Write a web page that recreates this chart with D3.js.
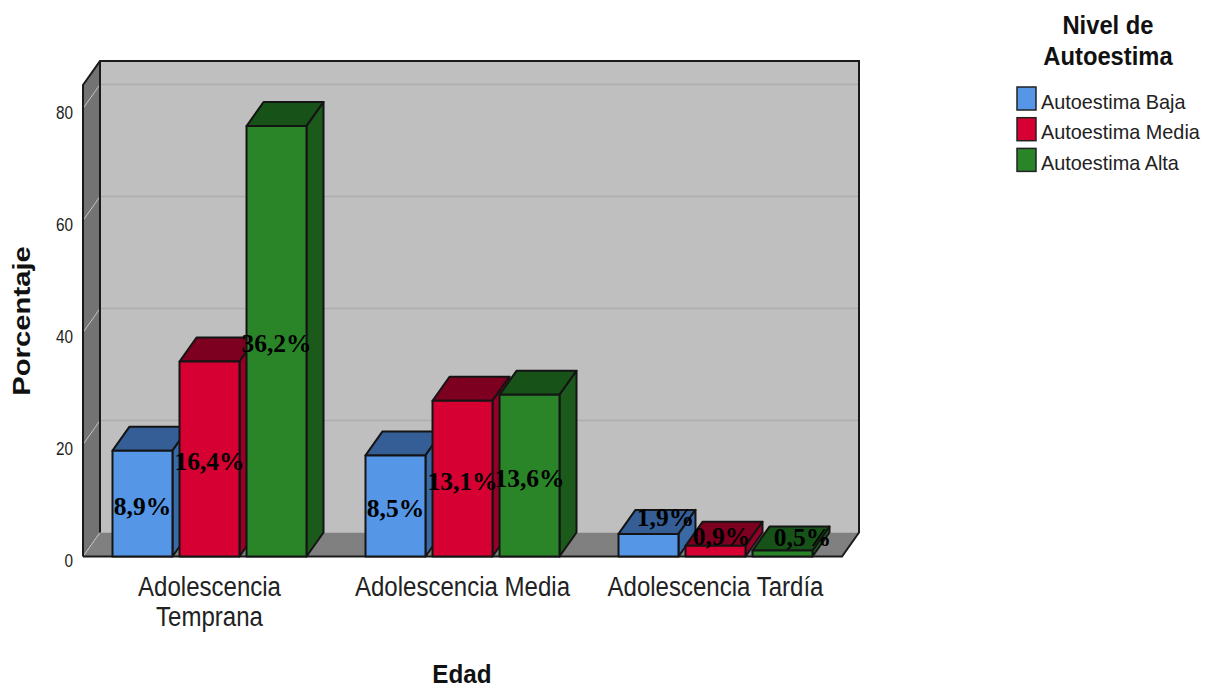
<!DOCTYPE html>
<html>
<head>
<meta charset="utf-8">
<script src="https://cdn.jsdelivr.net/npm/d3@7"></script>
<style>
  html, body { margin: 0; padding: 0; background: #fff; }
  svg { display: block; }
  .narrow { font-family: "Liberation Sans", sans-serif; fill: #222; }
  .title { font-family: "Liberation Sans", sans-serif; font-weight: bold; fill: #111; }
  .pct { font-family: "Liberation Serif", serif; font-weight: bold; font-size: 25.5px; fill: #000; text-anchor: middle; }
</style>
</head>
<body>
<svg id="svg" width="1216" height="689"></svg>
<script>
const categories = [["Adolescencia", "Temprana"], ["Adolescencia Media"], ["Adolescencia Tardía"]];
const levels = ["Autoestima Baja", "Autoestima Media", "Autoestima Alta"];
const pctBaja = [8.9, 8.5, 1.9];
const pctMedia = [16.4, 13.1, 0.9];
const pctAlta = [36.2, 13.6, 0.5];
const yTicks = [0, 20, 40, 60, 80];

// the axis shows each cell as a share of this total, the labels show the raw percentage
const baseTotal = 47.1;

const series = [pctBaja, pctMedia, pctAlta];
const faceColors = ["#5596e6", "#d60032", "#2a8528"];
const topColors = ["#355e96", "#7d0020", "#175218"];
const sideColors = ["#3a6aa6", "#960026", "#1b5a1b"];

const depthX = 17, depthY = -24;

const svg = d3.select("#svg");

const x0 = d3.scaleBand()
    .domain(d3.range(categories.length))
    .range([83, 842]);

const x1 = d3.scaleBand()
    .domain(d3.range(levels.length))
    .range([0, 194])
    .paddingInner(0.105);

const y = d3.scaleLinear()
    .domain([0, 84.2])
    .range([556.5, 85]);

const pts = (a) => a.map(p => p.join(",")).join(" ");

// squeeze or stretch a text element along its baseline
function fitWidth(sel, factor) {
  sel.each(function () {
    const len = this.getComputedTextLength();
    d3.select(this)
        .attr("textLength", len * factor)
        .attr("lengthAdjust", "spacingAndGlyphs");
  });
}

// walls and floor
const plotLeft = 83, plotRight = 842, plotBottom = y(0), plotTop = y(84.2);
const walls = svg.append("g");

walls.append("rect")
    .attr("x", plotLeft + depthX)
    .attr("y", plotTop + depthY)
    .attr("width", plotRight - plotLeft)
    .attr("height", plotBottom - plotTop)
    .attr("fill", "#bfbfbf");

walls.append("polygon")
    .attr("points", pts([[plotLeft, plotTop], [plotLeft + depthX, plotTop + depthY], [plotLeft + depthX, plotBottom + depthY], [plotLeft, plotBottom]]))
    .attr("fill", "#737373");

walls.append("polygon")
    .attr("points", pts([[plotLeft, plotBottom], [plotLeft + depthX, plotBottom + depthY], [plotRight + depthX, plotBottom + depthY], [plotRight, plotBottom]]))
    .attr("fill", "#808080");

walls.selectAll("line.grid")
    .data(yTicks.filter(d => d > 0))
    .enter().append("line")
    .attr("class", "grid")
    .attr("x1", plotLeft + depthX)
    .attr("x2", plotRight + depthX)
    .attr("y1", d => y(d) + depthY)
    .attr("y2", d => y(d) + depthY)
    .attr("stroke", "#adadad")
    .attr("stroke-width", 1.5);

walls.selectAll("line.gridside")
    .data(yTicks)
    .enter().append("line")
    .attr("class", "gridside")
    .attr("x1", plotLeft)
    .attr("x2", plotLeft + depthX)
    .attr("y1", d => y(d))
    .attr("y2", d => y(d) + depthY)
    .attr("stroke", "#c4c4c4")
    .attr("stroke-width", 1);

walls.append("path")
    .attr("d", d3.line()([
      [plotLeft, plotBottom], [plotLeft, plotTop], [plotLeft + depthX, plotTop + depthY],
      [plotRight + depthX, plotTop + depthY], [plotRight + depthX, plotBottom + depthY], [plotRight, plotBottom], [plotLeft, plotBottom]
    ]))
    .attr("fill", "none")
    .attr("stroke", "#1a1a1a")
    .attr("stroke-width", 2);

walls.append("line")
    .attr("x1", plotLeft + depthX)
    .attr("x2", plotLeft + depthX)
    .attr("y1", plotTop + depthY)
    .attr("y2", plotBottom + depthY)
    .attr("stroke", "#1a1a1a")
    .attr("stroke-width", 2);

// axes
const yAxis = svg.append("g")
    .attr("transform", "translate(" + (plotLeft - 7) + ",4)")
    .call(d3.axisLeft(y).tickValues(yTicks).tickSize(0).tickPadding(3));
yAxis.select(".domain").remove();
yAxis.selectAll("text")
    .attr("class", "narrow")
    .attr("font-size", 18)
    .call(fitWidth, 0.85);

const xAxis = svg.append("g")
    .attr("transform", "translate(0," + plotBottom + ")")
    .call(d3.axisBottom(x0).tickSize(0).tickFormat(""));
xAxis.select(".domain").remove();
const xLines = xAxis.selectAll(".tick text")
    .attr("class", "narrow")
    .attr("font-size", 27)
    .attr("y", 0)
    .attr("dy", null)
    .selectAll("tspan")
    .data(i => categories[i])
    .enter().append("tspan")
    .attr("x", 0)
    .attr("y", (d, i) => 39 + i * 30)
    .text(d => d);
xLines.call(fitWidth, 0.89);

// bars, left to right so each one covers the side of the one before
categories.forEach((c, ci) => {
  series.forEach((vals, si) => {
    const v = vals[ci] / baseTotal * 100;
    const bx = x0(ci) + (x0.bandwidth() - 194) / 2 + x1(si);
    const bw = x1.bandwidth();
    const by = y(v);
    const g = svg.append("g")
        .attr("stroke", "#141414")
        .attr("stroke-width", 2)
        .attr("stroke-linejoin", "round");

    g.append("polygon")
        .attr("points", pts([[bx, by], [bx + depthX, by + depthY], [bx + bw + depthX, by + depthY], [bx + bw, by]]))
        .attr("fill", topColors[si]);

    g.append("polygon")
        .attr("points", pts([[bx + bw, by], [bx + bw + depthX, by + depthY], [bx + bw + depthX, plotBottom + depthY], [bx + bw, plotBottom]]))
        .attr("fill", sideColors[si]);

    g.append("rect")
        .attr("x", bx)
        .attr("y", by)
        .attr("width", bw)
        .attr("height", plotBottom - by)
        .attr("fill", faceColors[si]);
  });
});

// value labels; the short bars of the last group have theirs lifted above the bar
const lift = { dx: [17, 6, 20], dy: [-30, -17, -19] };
categories.forEach((c, ci) => {
  series.forEach((vals, si) => {
    const v = vals[ci] / baseTotal * 100;
    const bx = x0(ci) + (x0.bandwidth() - 194) / 2 + x1(si);
    const short = ci === 2;
    svg.append("text")
        .attr("class", "pct")
        .attr("x", bx + x1.bandwidth() / 2 + (short ? lift.dx[si] : 0))
        .attr("y", (y(v) + plotBottom) / 2 + 11 + (short ? lift.dy[si] : 0))
        .text(d3.format(".1f")(vals[ci]).replace(".", ",") + "%");
  });
});

// axis titles
svg.append("text")
    .attr("class", "title")
    .attr("transform", "translate(30,321) rotate(-90)")
    .attr("text-anchor", "middle")
    .attr("font-size", 24)
    .text("Porcentaje")
    .call(fitWidth, 1.22);

svg.append("text")
    .attr("class", "title")
    .attr("x", 462)
    .attr("y", 683)
    .attr("text-anchor", "middle")
    .attr("font-size", 25)
    .text("Edad")
    .call(fitWidth, 0.97);

// legend
const legendTitle = ["Nivel de", "Autoestima"];
svg.selectAll("text.legendTitle")
    .data(legendTitle)
    .enter().append("text")
    .attr("class", "title legendTitle")
    .attr("x", 1108)
    .attr("y", (d, i) => 34 + i * 31)
    .attr("text-anchor", "middle")
    .attr("font-size", 25)
    .text(d => d)
    .call(fitWidth, 0.95);

const legend = svg.selectAll("g.legend")
    .data(levels)
    .enter().append("g")
    .attr("class", "legend")
    .attr("transform", (d, i) => "translate(1017," + (87 + i * 30.7) + ")");

legend.append("rect")
    .attr("width", 19)
    .attr("height", 23)
    .attr("fill", (d, i) => faceColors[i])
    .attr("stroke", "#222")
    .attr("stroke-width", 1.5);

legend.append("text")
    .attr("class", "narrow")
    .attr("x", 24)
    .attr("y", 21.5)
    .attr("font-size", 21)
    .text(d => d)
    .call(fitWidth, 0.945);
</script>
</body>
</html>
